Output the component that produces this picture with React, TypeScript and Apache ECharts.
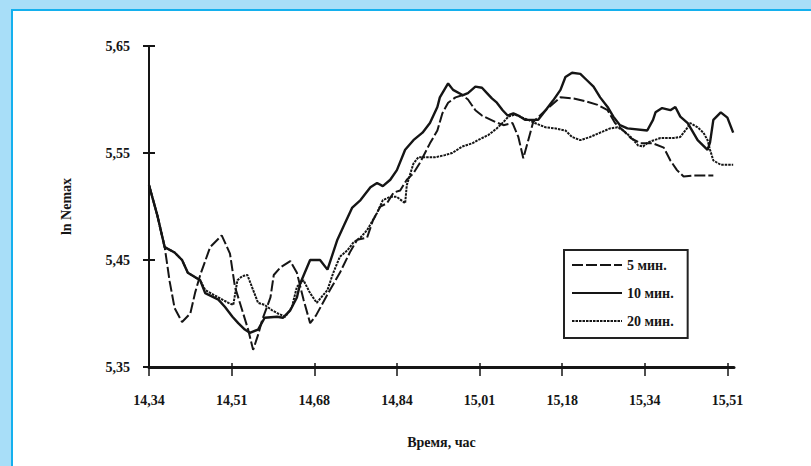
import React, { useEffect, useRef } from "react";
import * as echarts from "echarts";

// X axis: minutes after the first observation (14,34 h); labels every 10 minutes
const xTickMinutes = [0, 10, 20, 30, 40, 50, 60, 70];
const xTickLabels = ["14,34", "14,51", "14,68", "14,84", "15,01", "15,18", "15,34", "15,51"];
const yTicks = [5.35, 5.45, 5.55, 5.65];
const seriesNames = ["5 мин.", "10 мин.", "20 мин."];

// 5 мин. (dashed)
const t5 = [0, 1.0, 1.9, 2.5, 3.1, 4.0, 5.0, 5.6, 6.2, 7.4, 8.8, 9.8, 10.4, 11.4, 12.0, 12.6, 13.2, 13.7, 14.7, 15.1, 15.9, 17.1, 17.9, 18.7, 19.5, 20.2, 21.9, 23.1, 24.3, 25.2, 26.4, 27.1, 28.0, 28.8, 29.6, 30.4, 31.2, 32.0, 32.8, 34.0, 34.9, 35.5, 36.2, 37.1, 37.9, 38.6, 39.5, 40.3, 41.9, 42.9, 44.0, 44.7, 45.3, 45.9, 46.5, 48.0, 49.8, 51.4, 53.0, 54.3, 55.5, 56.4, 57.4, 58.3, 59.5, 61.0, 62.3, 63.1, 63.9, 64.7, 65.9, 68.3];
const v5 = [5.520, 5.492, 5.462, 5.430, 5.405, 5.392, 5.400, 5.420, 5.436, 5.462, 5.473, 5.456, 5.425, 5.400, 5.385, 5.366, 5.380, 5.394, 5.415, 5.436, 5.443, 5.449, 5.438, 5.413, 5.391, 5.398, 5.422, 5.438, 5.457, 5.469, 5.471, 5.487, 5.500, 5.503, 5.513, 5.515, 5.525, 5.531, 5.541, 5.559, 5.571, 5.587, 5.597, 5.602, 5.604, 5.600, 5.590, 5.585, 5.579, 5.576, 5.578, 5.565, 5.545, 5.562, 5.579, 5.590, 5.602, 5.601, 5.598, 5.595, 5.590, 5.578, 5.571, 5.564, 5.559, 5.559, 5.555, 5.543, 5.534, 5.528, 5.529, 5.529];

// 10 мин. (solid)
const t10 = [0, 1.0, 1.9, 3.1, 4.0, 4.7, 6.2, 6.8, 8.4, 9.2, 10.1, 10.8, 11.6, 12.2, 13.2, 14.0, 15.5, 16.2, 17.1, 17.9, 18.3, 19.5, 20.7, 21.6, 22.8, 23.7, 24.6, 25.6, 26.8, 27.6, 28.3, 29.2, 30.0, 31.0, 32.0, 33.1, 34.0, 34.9, 35.2, 36.2, 36.8, 38.0, 38.6, 39.5, 40.3, 40.9, 41.5, 42.1, 42.8, 43.4, 44.1, 44.7, 45.5, 47.1, 48.0, 48.9, 49.8, 50.4, 51.2, 52.2, 53.0, 53.8, 54.6, 55.5, 56.2, 57.0, 57.9, 60.3, 61.0, 61.3, 62.1, 63.1, 63.7, 64.3, 65.2, 66.4, 67.6, 67.9, 68.3, 69.2, 70.0, 70.7];
const v10 = [5.520, 5.492, 5.462, 5.457, 5.450, 5.438, 5.431, 5.419, 5.413, 5.406, 5.397, 5.391, 5.385, 5.382, 5.385, 5.396, 5.397, 5.396, 5.403, 5.415, 5.428, 5.450, 5.450, 5.441, 5.469, 5.484, 5.499, 5.506, 5.518, 5.522, 5.519, 5.525, 5.534, 5.553, 5.562, 5.569, 5.578, 5.593, 5.602, 5.615, 5.609, 5.604, 5.606, 5.612, 5.611, 5.606, 5.601, 5.597, 5.590, 5.585, 5.587, 5.585, 5.581, 5.581, 5.590, 5.599, 5.609, 5.621, 5.625, 5.624, 5.618, 5.612, 5.602, 5.593, 5.584, 5.576, 5.573, 5.571, 5.581, 5.588, 5.592, 5.590, 5.593, 5.584, 5.578, 5.562, 5.553, 5.560, 5.581, 5.588, 5.583, 5.569];

// 20 мин. (dotted)
const t20 = [0, 1.0, 1.9, 3.1, 4.0, 4.7, 6.2, 6.8, 8.4, 9.6, 10.2, 10.7, 11.3, 11.9, 12.5, 13.2, 14.0, 14.9, 15.6, 16.5, 17.3, 17.9, 18.7, 19.5, 20.3, 21.6, 22.3, 23.1, 24.0, 24.7, 25.6, 26.4, 27.6, 28.3, 29.2, 30.0, 31.0, 31.2, 32.0, 32.6, 34.6, 35.8, 36.7, 37.9, 39.1, 39.8, 41.1, 42.1, 42.9, 43.5, 44.3, 45.2, 45.9, 46.7, 48.0, 49.2, 50.4, 51.2, 52.2, 53.4, 54.6, 55.8, 56.7, 57.4, 58.3, 59.2, 59.8, 60.4, 61.9, 63.5, 64.3, 65.2, 65.5, 66.4, 67.1, 67.6, 67.9, 68.3, 69.2, 70.7];
const v20 = [5.520, 5.492, 5.462, 5.457, 5.450, 5.438, 5.431, 5.422, 5.415, 5.410, 5.408, 5.431, 5.435, 5.436, 5.424, 5.410, 5.408, 5.403, 5.400, 5.397, 5.406, 5.425, 5.431, 5.419, 5.410, 5.422, 5.438, 5.453, 5.459, 5.466, 5.471, 5.478, 5.494, 5.506, 5.509, 5.509, 5.503, 5.520, 5.540, 5.546, 5.546, 5.548, 5.550, 5.556, 5.559, 5.562, 5.567, 5.573, 5.579, 5.584, 5.586, 5.583, 5.581, 5.578, 5.574, 5.573, 5.571, 5.565, 5.562, 5.565, 5.569, 5.573, 5.574, 5.571, 5.565, 5.557, 5.556, 5.560, 5.564, 5.564, 5.565, 5.574, 5.578, 5.574, 5.569, 5.562, 5.553, 5.543, 5.539, 5.539];

const zip = (t: number[], v: number[]) => t.map((x, i) => [x, v[i]]);

export default function App() {
  const ref = useRef<HTMLDivElement>(null);

  useEffect(() => {
    if (!ref.current) return;
    const chart = echarts.init(ref.current, null, { renderer: "svg" });
    const font = '"Liberation Serif", "Times New Roman", serif';
    const ink = "#151515";
    const xMax = 70.8;
    const yFmt = (v: number) => v.toFixed(2).replace(".", ",");

    chart.setOption({
      animation: false,
      backgroundColor: "transparent",
      textStyle: { fontFamily: font, color: ink },
      grid: { left: 149, right: 77, top: 46, bottom: 99, containLabel: false },
      legend: {
        orient: "vertical",
        left: 564,
        top: 250,
        itemWidth: 50,
        itemHeight: 12,
        itemGap: 14,
        padding: [8, 14, 10, 7],
        borderColor: "#222",
        borderWidth: 2,
        borderRadius: 0,
        itemStyle: { color: "transparent", borderWidth: 0, opacity: 0 },
        textStyle: { fontFamily: font, fontSize: 14, color: ink, fontWeight: "bold" },
        data: seriesNames,
      },
      xAxis: [
        {
          type: "value",
          min: 0,
          max: xMax,
          name: "Время, час",
          nameLocation: "middle",
          nameGap: 68,
          nameTextStyle: { fontFamily: font, fontSize: 14, color: ink, fontWeight: "bold" },
          axisLine: { show: true, lineStyle: { color: ink, width: 3 } },
          axisTick: { show: true, customValues: xTickMinutes, length: 9, lineStyle: { color: ink, width: 1.5 } },
          axisLabel: {
            customValues: xTickMinutes,
            formatter: (v: number) => xTickLabels[Math.round(v / 10)] ?? "",
            margin: 26,
            fontSize: 14,
            fontWeight: "bold",
            color: ink,
            fontFamily: font,
          },
          splitLine: { show: false },
        },
        {
          type: "value",
          min: 0,
          max: xMax,
          position: "bottom",
          axisLine: { show: false },
          axisTick: { show: true, inside: true, customValues: xTickMinutes, length: 4, lineStyle: { color: ink, width: 1.5 } },
          axisLabel: { show: false },
          splitLine: { show: false },
        },
      ],
      yAxis: [
        {
          type: "value",
          min: 5.35,
          max: 5.65,
          name: "ln Nemax",
          nameLocation: "middle",
          nameGap: 76,
          nameTextStyle: { fontFamily: font, fontSize: 14, color: ink, fontWeight: "bold" },
          axisLine: { show: true, lineStyle: { color: ink, width: 2 } },
          axisTick: { show: true, customValues: yTicks, length: 6, lineStyle: { color: ink, width: 2 } },
          axisLabel: {
            customValues: yTicks,
            formatter: yFmt,
            margin: 19,
            fontSize: 14,
            fontWeight: "bold",
            color: ink,
            fontFamily: font,
          },
          splitLine: { show: false },
        },
        {
          type: "value",
          min: 5.35,
          max: 5.65,
          position: "left",
          axisLine: { show: false },
          axisTick: { show: true, inside: true, customValues: yTicks, length: 6, lineStyle: { color: ink, width: 2 } },
          axisLabel: { show: false },
          splitLine: { show: false },
        },
      ],
      series: [
        {
          name: seriesNames[0],
          type: "line",
          symbol: "none",
          showSymbol: false,
          data: zip(t5, v5),
          lineStyle: { color: ink, width: 2, type: [11, 3] },
          itemStyle: { color: ink },
        },
        {
          name: seriesNames[1],
          type: "line",
          symbol: "none",
          showSymbol: false,
          data: zip(t10, v10),
          lineStyle: { color: ink, width: 2.4, type: "solid" },
          itemStyle: { color: ink },
        },
        {
          name: seriesNames[2],
          type: "line",
          symbol: "none",
          showSymbol: false,
          data: zip(t20, v20),
          lineStyle: { color: ink, width: 2, type: [2.5, 1] },
          itemStyle: { color: ink },
        },
      ],
    });

    return () => chart.dispose();
  }, []);

  return (
    <div style={{ position: "fixed", left: 0, top: 0, width: 811, height: 466, background: "#a8def8", overflow: "hidden" }}>
      <div
        style={{
          position: "absolute",
          left: 11,
          top: 9,
          right: -4,
          bottom: -4,
          background: "#ffffff",
          borderLeft: "2px solid #14b0ee",
          borderTop: "2px solid #14b0ee",
        }}
      />
      <div ref={ref} style={{ position: "absolute", left: 0, top: 0, width: 811, height: 466 }} />
    </div>
  );
}
